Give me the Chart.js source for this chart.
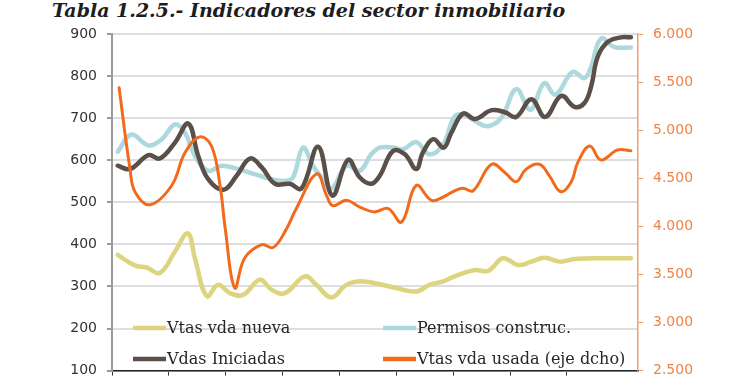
<!DOCTYPE html>
<html>
<head>
<meta charset="utf-8">
<script src="https://cdn.jsdelivr.net/npm/chart.js@4/dist/chart.umd.min.js"></script>
<style>
  body { margin: 0; background: #fff; }
  #wrap { position: relative; width: 740px; height: 389px; }
  #titulo {
    position: absolute; left: 52px; top: -1px;
    font: italic bold 19px "DejaVu Serif", serif; color: #1e1e1e;
    white-space: nowrap;
  }
  canvas { position: absolute; left: 0; top: 0; }
</style>
</head>
<body>
<div id="wrap">
  <div id="titulo">Tabla 1.2.5.- Indicadores del sector inmobiliario</div>
  <canvas id="grafico" width="740" height="389"></canvas>
</div>
<script>
// meses desde el inicio del eje (una marca cada 12 meses)
const nuevaMes = [1.2, 4.8, 7.3, 10.1, 13.3, 16.0, 17.5, 20.0, 22.4, 24.9, 27.7, 31.2, 33.7, 36.5, 40.7, 43.1, 46.3, 49.5, 53.0, 58.6, 64.2, 67.0, 69.9, 72.3, 76.6, 79.4, 82.5, 85.7, 88.5, 91.3, 94.5, 97.6, 103.2, 109.5]
const nuevaVal = [375, 350, 345, 332, 383, 426, 367, 277, 304, 284, 280, 316, 292, 284, 324, 304, 274, 304, 312, 300, 288, 304, 312, 324, 339, 337, 367, 351, 359, 368, 359, 365, 367, 367]

const permisosMes = [1.2, 4.1, 7.7, 10.5, 13.3, 15.4, 17.5, 20.3, 23.1, 26.6, 30.1, 33.7, 36.5, 38.2, 40.3, 42.4, 44.5, 46.3, 49.5, 52.3, 54.7, 56.5, 59.3, 61.4, 64.2, 67.0, 69.9, 72.3, 74.4, 76.6, 79.4, 82.2, 85.3, 88.3, 91.2, 93.6, 97.2, 99.7, 101.1, 103.2, 106.0, 109.5]
const permisosVal = [620, 661, 635, 650, 685, 665, 610, 575, 587, 579, 567, 555, 551, 559, 630, 587, 555, 532, 587, 575, 614, 630, 630, 626, 643, 614, 638, 704, 708, 693, 681, 701, 769, 720, 783, 756, 810, 795, 822, 889, 869, 868]

const iniciadasMes = [1.2, 3.8, 7.7, 10.1, 13.3, 16.1, 18.2, 20.3, 23.5, 26.3, 29.1, 31.6, 34.4, 37.5, 40.0, 43.5, 46.5, 49.8, 52.3, 54.7, 56.5, 59.3, 61.8, 64.2, 65.6, 67.8, 70.0, 71.6, 74.1, 76.6, 80.1, 82.9, 85.3, 88.5, 91.4, 94.8, 97.6, 99.7, 101.1, 102.5, 104.6, 107.4, 109.5]
const iniciadasVal = [587, 579, 612, 604, 642, 687, 610, 555, 530, 563, 604, 583, 544, 544, 533, 632, 516, 601, 559, 544, 563, 622, 614, 579, 618, 650, 630, 665, 711, 698, 719, 714, 703, 745, 703, 753, 727, 736, 775, 846, 881, 892, 892]

const usadaMes = [1.5, 3.8, 4.9, 8.0, 12.6, 15.4, 18.5, 21.0, 22.8, 23.9, 25.9, 28.0, 31.6, 34.0, 36.5, 38.9, 43.2, 45.3, 46.6, 49.5, 52.3, 55.4, 58.3, 61.1, 64.2, 67.4, 69.9, 72.3, 74.1, 76.2, 80.1, 82.9, 85.3, 87.4, 90.2, 92.3, 94.7, 96.9, 98.3, 100.8, 103.2, 106.7, 109.5]
const usadaVal = [5440, 4595, 4355, 4225, 4425, 4765, 4930, 4835, 4425, 3975, 3360, 3670, 3810, 3780, 3945, 4185, 4545, 4320, 4215, 4270, 4200, 4150, 4185, 4045, 4425, 4270, 4305, 4370, 4395, 4370, 4645, 4560, 4465, 4595, 4645, 4525, 4360, 4460, 4665, 4835, 4690, 4795, 4785]

const puntos = (mes, val) => mes.map((m, i) => ({ x: m, y: val[i] }))

const miles = v => String(v).replace(/\B(?=(\d{3})+(?!\d))/g, '.')

// leyenda dibujada dentro del area del grafico, en dos columnas
const leyendaDentro = {
  id: 'leyendaDentro',
  afterDatasetsDraw(chart) {
    const { ctx, chartArea } = chart
    ctx.save()
    ctx.font = '16px "DejaVu Serif", serif'
    ctx.textBaseline = 'middle'
    chart.data.datasets.forEach((ds, i) => {
      const col = i % 2
      const fila = Math.floor(i / 2)
      const x = chartArea.left + 21 + col * 250
      const y = chartArea.top + 294 + fila * 31
      ctx.strokeStyle = ds.borderColor
      ctx.lineWidth = 4.5
      ctx.lineCap = 'butt'
      ctx.beginPath()
      ctx.moveTo(x, y)
      ctx.lineTo(x + 33, y)
      ctx.stroke()
      ctx.fillStyle = '#262626'
      ctx.fillText(ds.label, x + 34, y + 1)
    })
    ctx.restore()
  }
}

new Chart(document.getElementById('grafico'), {
  type: 'line',
  data: {
    datasets: [
      { label: 'Vtas vda nueva', data: puntos(nuevaMes, nuevaVal), borderColor: '#dcd47e', borderWidth: 4.5, yAxisID: 'y', order: 3 },
      { label: 'Permisos construc.', data: puntos(permisosMes, permisosVal), borderColor: '#acd8de', borderWidth: 4.5, yAxisID: 'y', order: 2 },
      { label: 'Vdas Iniciadas', data: puntos(iniciadasMes, iniciadasVal), borderColor: '#5a5049', borderWidth: 4.5, yAxisID: 'y', order: 1 },
      { label: 'Vtas vda usada (eje dcho)', data: puntos(usadaMes, usadaVal), borderColor: '#f26a1c', borderWidth: 3, yAxisID: 'y2', order: 0 }
    ]
  },
  options: {
    responsive: false,
    animation: false,
    layout: { padding: { top: 34, left: 0, right: 0, bottom: 0 } },
    elements: {
      point: { radius: 0 },
      line: { tension: 0.4, borderCapStyle: 'round', borderJoinStyle: 'round' }
    },
    plugins: { legend: { display: false }, tooltip: { enabled: false } },
    scales: {
      x: {
        type: 'linear', min: 0, max: 111,
        ticks: { display: false, stepSize: 12 },
        grid: { drawOnChartArea: false, tickLength: 5, color: '#333', lineWidth: 1 },
        border: { color: '#222', width: 1.5 },
        afterBuildTicks: s => { s.ticks = s.ticks.filter(t => t.value % 12 === 0) },
        afterFit: s => { s.height = 15 }
      },
      y: {
        position: 'left', min: 100, max: 900,
        ticks: { stepSize: 100, padding: 10, color: '#333', font: { family: 'DejaVu Sans', size: 14 } },
        grid: { color: '#dedede', lineWidth: 2, tickLength: 5, tickColor: '#999' },
        border: { color: '#9a9a9a', width: 2 },
        afterFit: s => { s.width = 112 }
      },
      y2: {
        position: 'right', min: 2500, max: 6000,
        ticks: { stepSize: 500, padding: 10, color: '#f08448', font: { family: 'DejaVu Sans', size: 14 }, callback: v => miles(v) },
        grid: { drawOnChartArea: false, tickLength: 5, color: '#f0a06a', lineWidth: 1 },
        border: { color: '#f0a06a', width: 1.5 },
        afterFit: s => { s.width = 102 }
      }
    }
  },
  plugins: [leyendaDentro]
})
</script>
</body>
</html>
